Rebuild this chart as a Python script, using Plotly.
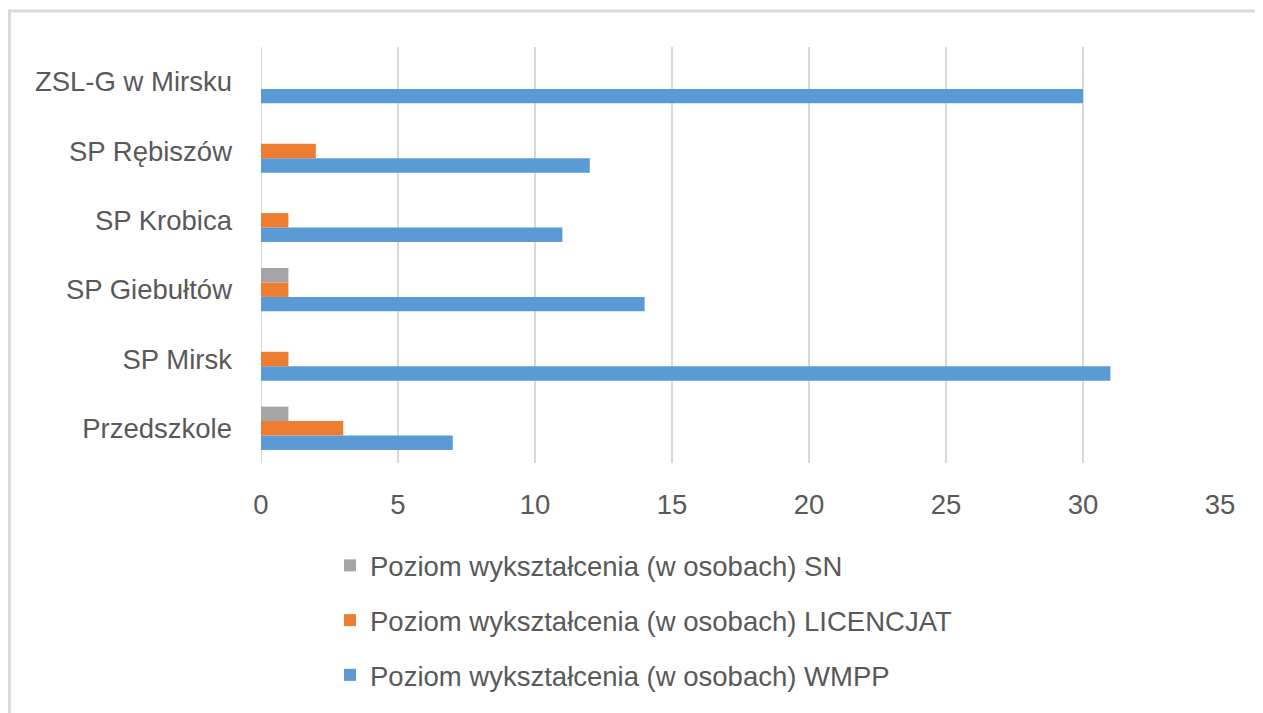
import plotly.graph_objects as go

categories = ["Przedszkole", "SP Mirsk", "SP Giebułtów", "SP Krobica", "SP Rębiszów", "ZSL-G w Mirsku"]
wmpp = [7, 31, 14, 11, 12, 30]
licencjat = [3, 1, 1, 1, 2, 0]
sn = [1, 0, 1, 0, 0, 0]
series_names = [
    "Poziom wykształcenia (w osobach) WMPP",
    "Poziom wykształcenia (w osobach) LICENCJAT",
    "Poziom wykształcenia (w osobach) SN",
]
colors = ["#5B9BD5", "#ED7D31", "#A5A5A5"]
x_ticks = [0, 5, 10, 15, 20, 25, 30, 35]

OFF = 8  # page body margin
W, H = 1263 - OFF, 713 - OFF
L, R, T, B = 261 - OFF, 43, 47 - OFF, 250
pw, ph = W - L - R, H - T - B

def px_x(p):
    return (p - OFF - L) / pw

def px_y(p):
    return (H - B - (p - OFF)) / ph

FONT = "Liberation Sans"
TXT = "#595959"
FS = 27.5

fig = go.Figure()
for i, (name, vals, col) in enumerate(zip(series_names, [wmpp, licencjat, sn], colors)):
    fig.add_trace(go.Bar(
        y=categories, x=vals, name=name, orientation="h",
        marker=dict(color=col, line=dict(width=0)),
        legendgroup=name, legendrank=1000 - i,
    ))

fig.update_layout(
    width=W, height=H,
    margin=dict(l=L, r=R, t=T, b=B, pad=0),
    paper_bgcolor="white", plot_bgcolor="white",
    barmode="group", bargap=0.375, bargroupgap=0,
    font=dict(family=FONT, size=FS, color=TXT),
    showlegend=True,
    legend=dict(
        orientation="v", traceorder="grouped", tracegroupgap=16,
        x=px_x(330), xanchor="left", y=px_y(541), yanchor="top",
        font=dict(family=FONT, size=FS, color=TXT),
        bgcolor="rgba(0,0,0,0)",
    ),
    xaxis=dict(
        range=[0, 35], tickvals=x_ticks, showgrid=True, gridcolor="#D9D9D9", gridwidth=2,
        zeroline=False, showline=False, ticks="", ticklabelstandoff=22,
        tickfont=dict(family=FONT, size=FS, color=TXT), fixedrange=True,
    ),
    yaxis=dict(
        type="category", categoryorder="array", categoryarray=categories,
        range=[-0.5, 5.5], showgrid=False, zeroline=False, showline=False,
        ticks="", ticklabelstandoff=28,
        tickfont=dict(family=FONT, size=FS, color=TXT), fixedrange=True,
    ),
    shapes=[
        dict(type="line", xref="paper", yref="paper", x0=px_x(9.5), x1=px_x(9.5),
             y0=px_y(9.5), y1=px_y(720), line=dict(color="#D9D9D9", width=3)),
        dict(type="line", xref="paper", yref="paper", x0=px_x(8), x1=px_x(1270),
             y0=px_y(11), y1=px_y(11), line=dict(color="#D9D9D9", width=3)),
        dict(type="line", xref="x", yref="paper", x0=0, x1=0, y0=0, y1=1,
             line=dict(color="#D9D9D9", width=2), layer="below"),
    ],
)

fig.write_html("out.html")
